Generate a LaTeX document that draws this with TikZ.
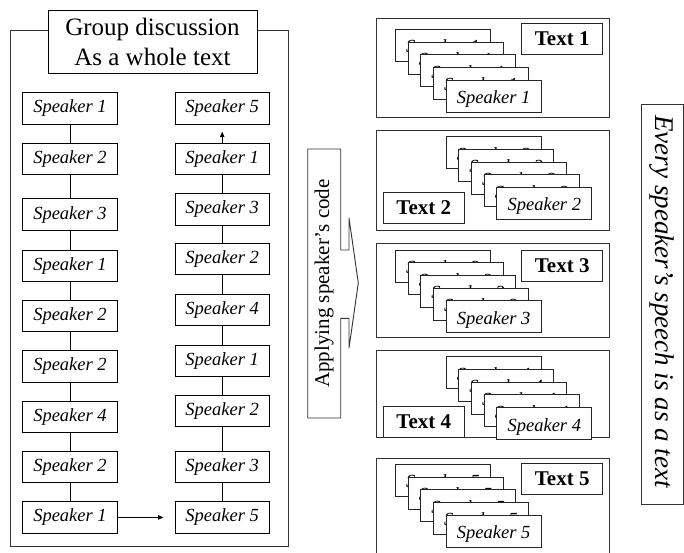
\documentclass[tikz,border=0pt]{standalone}
\usepackage{fontspec}
\setmainfont{Liberation Serif}
\usetikzlibrary{arrows.meta}
\tikzset{
  spk/.style={draw, fill=white, minimum width=94.5pt, minimum height=31.5pt, inner sep=0pt,
    font=\fontsize{18.5}{20}\selectfont\itshape},
  card/.style={draw=black!85, fill=white, minimum width=95pt, minimum height=32pt, inner sep=0pt,
    text height=15pt, text depth=0pt,
    font=\fontsize{18.5}{20}\selectfont\itshape},
  txtbox/.style={draw=black!85, fill=white, minimum width=81pt, minimum height=31pt, inner sep=0pt,
    font=\fontsize{21}{24}\selectfont\bfseries},
  frame/.style={draw=black!80},
  link/.style={draw},
  arr/.style={draw, -{Triangle[length=5.5pt,width=4.5pt]}},
}
\begin{document}
\begin{tikzpicture}[x=1pt,y=-1pt,line width=0.9pt]
\useasboundingbox (0,0) rectangle (684,553);
\clip (0,0) rectangle (684,553);
\fill[white] (0,0) rectangle (684,553);

% big left frame and title
\draw[frame] (10,30) rectangle (288,546);
\node[draw, fill=white, minimum width=209pt, minimum height=63pt, inner sep=0pt, align=center,
  font=\fontsize{25}{30}\selectfont] (title) at (152.5,41.5) {Group discussion\\As a whole text};

% left column
\foreach \n/\y/\s in {1/108.4/1, 2/159/2, 3/214.7/3, 4/265.7/1, 5/315.7/2, 6/366.4/2, 7/416.7/4, 8/466.7/2, 9/517.4/1}
  \node[spk] (L\n) at (70,\y) {Speaker \s};
% right column
\foreach \n/\y/\s in {1/108.4/5, 2/159/1, 3/209.2/3, 4/259/2, 5/310/4, 6/360.7/1, 7/410.7/2, 8/466.7/3, 9/517.4/5}
  \node[spk] (R\n) at (222.2,\y) {Speaker \s};

\foreach \a/\b in {1/2,2/3,3/4,4/5,5/6,6/7,7/8,8/9}
  \draw[link] (L\a) -- (L\b);
\foreach \a/\b in {9/8,8/7,7/6,6/5,5/4,4/3,3/2}
  \draw[link] (R\a) -- (R\b);
\draw[arr, shorten >=7pt] (R2) -- (R1);
\draw[arr, shorten >=11pt] (L9) -- (R9);

% middle arrow
\draw[frame] (307.7,149) -- (340.7,149) -- (340.7,250) -- (349,250) -- (349,218)
  -- (358.3,283) -- (349,348) -- (349,318.3) -- (340.7,318.3) -- (340.7,418) -- (307.7,418) -- cycle;
\node[rotate=90, font=\fontsize{21}{24}\selectfont, inner sep=0pt] (apply) at (324.2,283.5) {Applying speaker’s code};

% right panels
\draw[frame] (376,18.3) rectangle (609,117.3);
\draw[frame] (376,130.7) rectangle (609,230);
\draw[frame] (376,243.3) rectangle (609,337.3);
\draw[frame] (376,350.7) rectangle (609,437);
\draw[frame] (376,458.3) rectangle (609,600);

\foreach \k/\sx/\sy in {1/395.3/29.3, 2/446/136.7, 3/395.3/250, 4/446/356.7, 5/395.3/464.3}
  \foreach \i in {0,...,4}
    \node[card] (c\k-\i) at ({\sx+12.7*\i+47.5},{\sy+12.7*\i+16}) {Speaker \k};

\node[txtbox] (t1) at (562.2,38.8) {Text 1};
\node[txtbox] (t2) at (423.8,208) {Text 2};
\node[txtbox] (t3) at (562.2,265.8) {Text 3};
\node[txtbox] (t4) at (423.8,422.1) {Text 4};
\node[txtbox] (t5) at (562.2,479.1) {Text 5};

% right label
\draw[frame] (641.7,104) rectangle (683,504.3);
\node[rotate=-90, font=\fontsize{27}{30}\selectfont\itshape, inner sep=0pt] (every) at (662.3,301.5) {Every speaker’s speech is as a text};
\end{tikzpicture}
\end{document}
